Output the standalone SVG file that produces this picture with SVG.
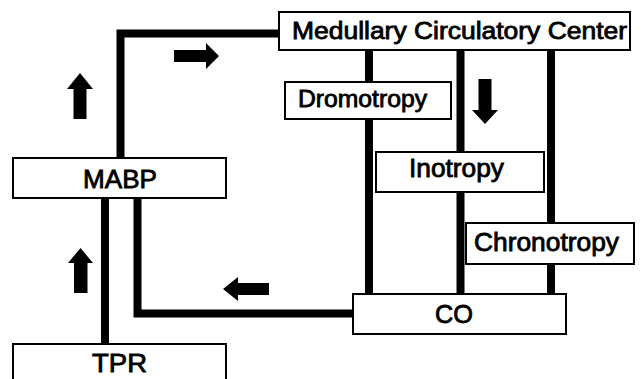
<svg xmlns="http://www.w3.org/2000/svg" width="644" height="379" viewBox="0 0 644 379">
<style>
.box{fill:#fff;stroke:#000;stroke-width:2}
.lbl{font-family:"Liberation Sans",Arial,sans-serif;font-size:25px;fill:#000;stroke:#000;stroke-width:0.8}
.sm{font-size:23px}
.con{fill:none;stroke:#000;stroke-width:8;stroke-linejoin:miter}
.ind{fill:#000}
</style>
<rect width="644" height="379" fill="#fff"/>
<g id="connectors">
<polyline class="con" points="120.5,158 120.5,33.5 279,33.5"/>
<line class="con" x1="369" y1="50" x2="369" y2="294"/>
<line class="con" x1="460.5" y1="50" x2="460.5" y2="294"/>
<line class="con" x1="551" y1="50" x2="551" y2="294"/>
<polyline class="con" points="353,313.5 137.5,313.5 137.5,198"/>
<line class="con" x1="105" y1="198" x2="105" y2="344"/>
</g>
<g id="indicators">
<polygon class="ind" points="80,73 93,89 86.5,89 86.5,119 73.5,119 73.5,89 67,89"/>
<polygon class="ind" points="80.5,248 93,263 87.5,263 87.5,293 74,293 74,263 68,263"/>
<polygon class="ind" points="219,56 206,43 206,50 174,50 174,62 206,62 206,69"/>
<polygon class="ind" points="485,124 498,110 491.5,110 491.5,79 478.5,79 478.5,110 472,110"/>
<polygon class="ind" points="223,289 238,277 238,283 269,283 269,295 238,295 238,301"/>
</g>
<g id="medullary">
<rect class="box" x="279" y="12" width="351" height="38"/>
<text class="lbl sm" x="292" y="39" textLength="335" lengthAdjust="spacingAndGlyphs">Medullary Circulatory Center</text>
</g>
<g id="dromotropy">
<rect class="box" x="285" y="82" width="166" height="37"/>
<text class="lbl sm" x="298" y="107" textLength="129" lengthAdjust="spacingAndGlyphs">Dromotropy</text>
</g>
<g id="inotropy">
<rect class="box" x="376" y="152" width="168" height="40"/>
<text class="lbl" x="409" y="176.5" textLength="95" lengthAdjust="spacingAndGlyphs">Inotropy</text>
</g>
<g id="chronotropy">
<rect class="box" x="466" y="223" width="168" height="41"/>
<text class="lbl" x="474" y="251" textLength="145" lengthAdjust="spacingAndGlyphs">Chronotropy</text>
</g>
<g id="co">
<rect class="box" x="353" y="294" width="213" height="40"/>
<text class="lbl" x="435" y="322.5" textLength="38" lengthAdjust="spacingAndGlyphs">CO</text>
</g>
<g id="mabp">
<rect class="box" x="13" y="158" width="213" height="40"/>
<text class="lbl" x="83" y="188" textLength="74" lengthAdjust="spacingAndGlyphs">MABP</text>
</g>
<g id="tpr">
<rect class="box" x="13" y="344" width="213" height="45"/>
<text class="lbl" x="92" y="371.5" textLength="55" lengthAdjust="spacingAndGlyphs">TPR</text>
</g>
</svg>
